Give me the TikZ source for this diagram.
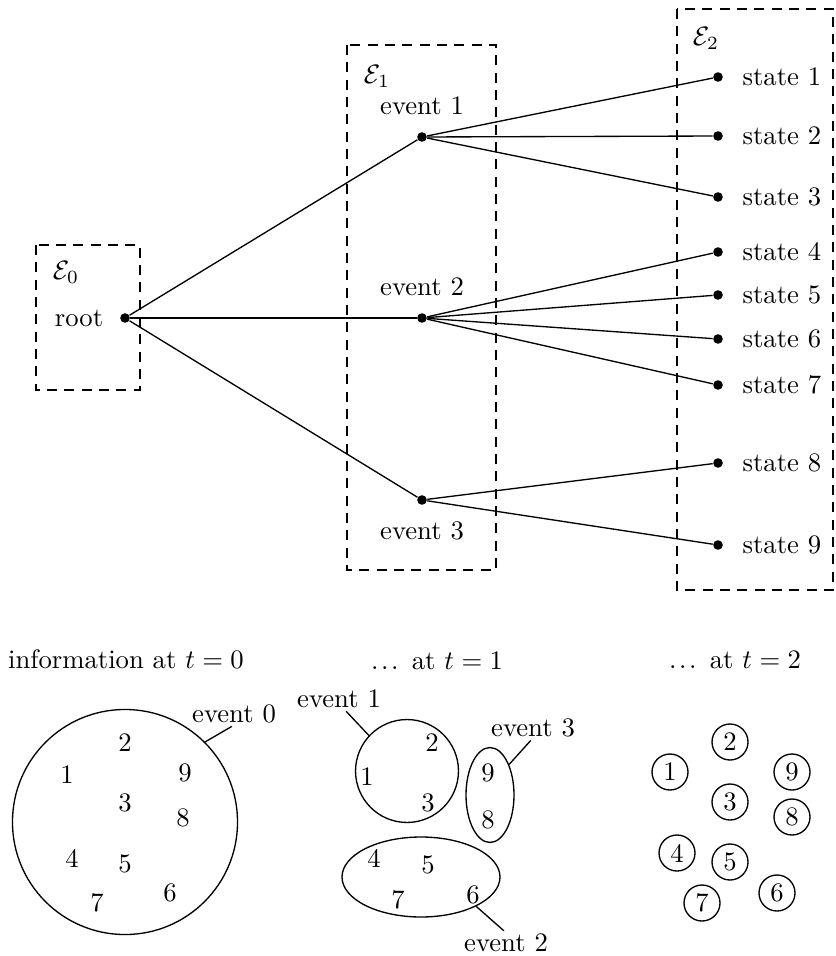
\documentclass[tikz,border=0pt]{standalone}
\usepackage{amsmath}
\usetikzlibrary{positioning,shapes.geometric}

\begin{document}
\begin{tikzpicture}[% one unit is one pixel of the page
		x=0.375pt,y=-0.375pt,
		every node/.style={inner sep=1pt},
		dot/.style={circle,fill=black,inner sep=0pt,minimum size=3.6pt},
		setbox/.style={draw,line width=0.5pt,dash pattern=on 3.8pt off 2.7pt},
		blob/.style={draw,line width=0.5pt,inner sep=0pt},	% the sets of states
		atom/.style={circle,draw,line width=0.5pt,inner sep=0pt,minimum size=13.5pt},
		every edge/.style={draw,line width=0.5pt}
	]
	\useasboundingbox (0,0) rectangle (835,956);
	% the partitions E_0, E_1, E_2
	\draw[setbox] (36,245) rectangle (140,390);
	\draw[setbox] (347,45) rectangle (496,570);
	\draw[setbox] (677,9) rectangle (833,590);
	\node (E0) at (66,272) {$\mathcal{E}_0$};
	\node (E1) at (377,76) {$\mathcal{E}_1$};
	\node (E2) at (706,38) {$\mathcal{E}_2$};
	% the tree
	\node[dot] (root) at (125,318) {};
	\node[left=5pt of root] (rootlab) {root};
	\node[dot] (ev1) at (422,137) {};
	\node[dot] (ev2) at (422,318) {};
	\node[dot] (ev3) at (422,500) {};
	\node[above=5pt of ev1] (ev1lab) {event 1};
	\node[above=5pt of ev2] (ev2lab) {event 2};
	\node[below=5pt of ev3] (ev3lab) {event 3};
	\foreach \i/\y in {1/77,2/136,3/197,4/252,5/295,6/339,7/385,8/463,9/545}{
		\node[dot] (s\i) at (718,\y) {};
		\node[right=6pt of s\i] (s\i lab) {state \i};
	}
	\path
	(root) edge (ev1)
	(root) edge (ev2)
	(root) edge (ev3)
	(ev1) edge (s1) (ev1) edge (s2) (ev1) edge (s3)
	(ev2) edge (s4) (ev2) edge (s5) (ev2) edge (s6) (ev2) edge (s7)
	(ev3) edge (s8) (ev3) edge (s9)
	;
	% information at t = 0, 1, 2
	\node (info0) at (126,659) {information at $t=0$};
	\node (info1) at (437,661) {.\kern1pt.\kern1pt.\enspace at $t=1$};
	\node (info2) at (735,660) {.\kern1pt.\kern1pt.\enspace at $t=2$};
	% t = 0
	\node[blob,circle,minimum size=84.4pt] (set0) at (125,822) {};
	\foreach \n/\x/\y in {1/67/775,2/125/743,3/125/803,4/72/858,5/125/864,6/170/893,7/97/903,8/183/818,9/185/773}
		\node (a\n) at (\x,\y) {\n};
	\node (set0lab) at (234,714) {event 0};
	\draw[line width=0.5pt] (set0.45) -- (set0lab.-100);
	% t = 1
	\node[blob,circle,minimum size=38.6pt] (set1) at (407,771) {};
	\node[blob,ellipse,minimum width=59.25pt,minimum height=30pt] (set2) at (421,877) {};
	\node[blob,ellipse,minimum width=18pt,minimum height=35.6pt] (set3) at (490,795) {};
	\foreach \n/\x/\y in {1/367/777,2/432/743,3/428/803,4/374/858,5/428/865,6/473/895,7/398/900,8/488/820,9/488/773}
		\node (b\n) at (\x,\y) {\n};
	\node (set1lab) at (339,699) {event 1};
	\node (set2lab) at (506,943) {event 2};
	\node (set3lab) at (533,728) {event 3};
	\draw[line width=0.5pt] (set1.137) -- (set1lab.-60);
	\draw[line width=0.5pt] (set2.-28) -- (set2lab.100);
	\draw[line width=0.5pt] (set3.58) -- (set3lab.-100);
	% t = 2
	\foreach \n/\x/\y in {1/670/772,2/730/742,3/730/802,4/677/853,5/730/862,6/777/893,7/702/903,8/792/817,9/792/772}
		\node[atom] (c\n) at (\x,\y) {\n};
\end{tikzpicture}
\end{document}
